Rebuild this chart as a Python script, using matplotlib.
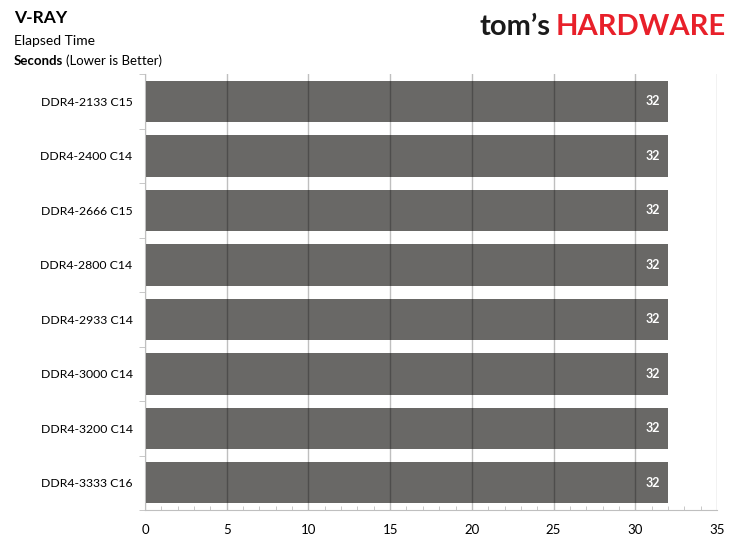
import matplotlib
matplotlib.use("Agg")
import matplotlib.pyplot as plt
from matplotlib.ticker import MultipleLocator

categories = ["DDR4-2133 C15", "DDR4-2400 C14", "DDR4-2666 C15", "DDR4-2800 C14",
              "DDR4-2933 C14", "DDR4-3000 C14", "DDR4-3200 C14", "DDR4-3333 C16"]
values = [32, 32, 32, 32, 32, 32, 32, 32]
xticks = [0, 5, 10, 15, 20, 25, 30, 35]

plt.rcParams['font.family'] = ['Lato', 'DejaVu Sans']

fig = plt.figure(figsize=(7.44, 5.49), dpi=100)
ax = fig.add_axes([0.1949, 0.0710, 0.9637 - 0.1949, 0.8650 - 0.0710])

n = len(categories)
ypos = list(range(n))
ax.barh(ypos, values, height=0.76, color="#696866", zorder=2)
for y, v in zip(ypos, values):
    ax.text(v - 0.5, y, f"{v:g}", color="white", ha="right", va="center",
            fontsize=9, fontweight="bold", zorder=4)

ax.set_ylim(n - 0.5, -0.5)
ax.set_xlim(0, 35)
ax.set_xticks(xticks)
ax.xaxis.set_minor_locator(MultipleLocator(1))
ax.set_yticks(ypos)
ax.set_yticklabels(categories, fontsize=8.8)
ax.set_yticks([i - 0.5 for i in range(n + 1)], minor=True)
ax.tick_params(axis='y', which='major', length=0, pad=9)
ax.tick_params(axis='y', which='minor', length=4, color="#bfbfbf", direction='out')
ax.tick_params(axis='x', which='major', length=0, pad=10, labelsize=9.5)
ax.tick_params(axis='x', which='minor', length=3, color="#bfbfbf", direction='in')

ax.grid(axis='x', which='major', color='black', alpha=0.25, linewidth=1, zorder=3)
ax.set_axisbelow(False)
for s in ['top', 'right']:
    ax.spines[s].set_visible(False)
ax.spines['left'].set_color('#bfbfbf')
ax.spines['bottom'].set_color('#bfbfbf')
ax.spines['left'].set_zorder(5)

fig.text(0.019, 0.967, "V-RAY", fontsize=12.5, fontweight="bold", ha="left", va="center")
fig.text(0.019, 0.925, "Elapsed Time", fontsize=10, ha="left", va="center")
sec = fig.text(0.019, 0.889, "Seconds", fontsize=9.5, fontweight="bold", ha="left", va="center")
fig.canvas.draw()
bb = sec.get_window_extent()
fig.text((bb.x1 + 3) / fig.bbox.width, 0.889, "(Lower is Better)", fontsize=9.5,
         ha="left", va="center")

fig.text(0.645, 0.950, "tom\u2019s", fontsize=21, fontweight="bold", color="#1a1a1a",
         ha="left", va="center")
fig.text(0.976, 0.950, "HARDWARE", fontsize=21, fontweight="bold", color="#e8202a",
         ha="right", va="center")

fig.savefig("out.png", dpi=100)
